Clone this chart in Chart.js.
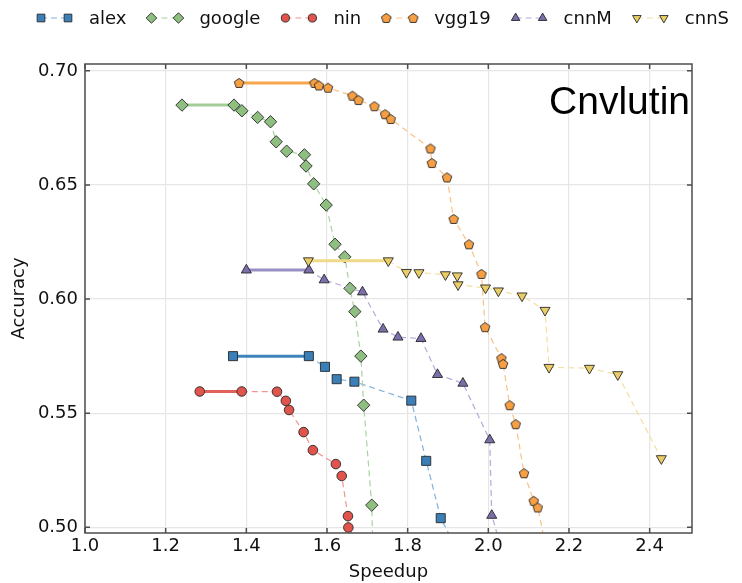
<!DOCTYPE html>
<html>
<head>
<meta charset="utf-8">
<script src="https://cdn.jsdelivr.net/npm/chart.js@4/dist/chart.umd.min.js"></script>
<style>
  html, body { margin: 0; padding: 0; background: #fff; }
  #wrap { width: 742px; height: 583px; }
</style>
</head>
<body>
<div id="wrap"><canvas id="chart" width="742" height="583"></canvas></div>
<script>
// speedup (x) / accuracy (y) per network
const alexSpeedup = [1.367, 1.555, 1.595, 1.624, 1.668, 1.809, 1.846, 1.882, 1.955]
const alexAccuracy = [0.575, 0.575, 0.5703, 0.5649, 0.5638, 0.5555, 0.5291, 0.504, 0.479]

const googleSpeedup = [1.2405, 1.3695, 1.389, 1.428, 1.460, 1.474, 1.500, 1.544, 1.548, 1.567, 1.598, 1.620, 1.644, 1.657, 1.669, 1.684, 1.691, 1.711, 1.715]
const googleAccuracy = [0.685, 0.685, 0.6825, 0.6796, 0.6777, 0.6689, 0.6648, 0.6632, 0.6583, 0.6505, 0.6412, 0.624, 0.6185, 0.6047, 0.5945, 0.575, 0.5535, 0.5097, 0.48]

const ninSpeedup = [1.2845, 1.3885, 1.476, 1.498, 1.506, 1.542, 1.565, 1.622, 1.6365, 1.652, 1.653, 1.70]
const ninAccuracy = [0.5595, 0.5595, 0.5594, 0.5554, 0.5514, 0.5417, 0.5338, 0.5277, 0.5225, 0.5049, 0.4999, 0.488]

const vgg19Speedup = [1.382, 1.569, 1.580, 1.6025, 1.663, 1.678, 1.7175, 1.744, 1.758, 1.8565, 1.860, 1.8976, 1.914, 1.952, 1.983, 1.992, 2.0325, 2.0365, 2.053, 2.068, 2.0886, 2.1126, 2.1225, 2.15]
const vgg19Accuracy = [0.6947, 0.6947, 0.6936, 0.6926, 0.6891, 0.6872, 0.6845, 0.681, 0.6789, 0.666, 0.6596, 0.6533, 0.6351, 0.624, 0.611, 0.5877, 0.5741, 0.5716, 0.5535, 0.5452, 0.5237, 0.5116, 0.5087, 0.485]

const cnnMSpeedup = [1.400, 1.555, 1.593, 1.688, 1.739, 1.776, 1.833, 1.874, 1.937, 2.0035, 2.0085, 2.04]
const cnnMAccuracy = [0.6127, 0.6127, 0.6084, 0.6031, 0.5868, 0.5833, 0.5827, 0.5669, 0.5631, 0.5383, 0.5052, 0.486]

const cnnSSpeedup = [1.554, 1.752, 1.797, 1.828, 1.8936, 1.923, 1.925, 1.993, 2.025, 2.0836, 2.1406, 2.1505, 2.2507, 2.321, 2.429]
const cnnSAccuracy = [0.6168, 0.6168, 0.6117, 0.6116, 0.6107, 0.6102, 0.6063, 0.6049, 0.6036, 0.6014, 0.5951, 0.5701, 0.5697, 0.5669, 0.5301]

const FONT = "'DejaVu Sans', sans-serif"
const EDGE = 'rgba(40,40,40,0.9)'

function pentagon(fill, r) {
  const c = document.createElement('canvas')
  c.width = c.height = 16
  const g = c.getContext('2d')
  g.beginPath()
  for (let i = 0; i < 5; i++) {
    const a = -Math.PI / 2 + i * 2 * Math.PI / 5
    const px = 8 + r * Math.cos(a), py = 8.4 + r * Math.sin(a)
    i ? g.lineTo(px, py) : g.moveTo(px, py)
  }
  g.closePath()
  g.fillStyle = fill
  g.fill()
  g.strokeStyle = EDGE
  g.lineWidth = 1
  g.stroke()
  return c
}

const series = [
  { label: 'alex', x: alexSpeedup, y: alexAccuracy, marker: 'rect', radius: 6.4, fill: '#3a7fb7', solid: '#3f85bd', dash: '#7fb2df' },
  { label: 'google', x: googleSpeedup, y: googleAccuracy, marker: 'rectRot', radius: 6.2, fill: '#8fbf80', solid: '#a3cd96', dash: '#a8d4a0' },
  { label: 'nin', x: ninSpeedup, y: ninAccuracy, marker: 'circle', radius: 4.8, fill: '#e0544c', solid: '#e2615a', dash: '#f2958e' },
  { label: 'vgg19', x: vgg19Speedup, y: vgg19Accuracy, marker: pentagon('#f7a043', 5), radius: 5.5, fill: '#f7a043', solid: '#f5a54c', dash: '#f9c286' },
  { label: 'cnnM', x: cnnMSpeedup, y: cnnMAccuracy, marker: 'triangle', radius: 5.8, fill: '#7c6dab', solid: '#9a8fc4', dash: '#b4aad8' },
  { label: 'cnnS', x: cnnSSpeedup, y: cnnSAccuracy, marker: 'triangle', rotation: 180, radius: 5.8, fill: '#eacd66', solid: '#f0d987', dash: '#f4dfa0' },
]

// first segment of every curve is solid and heavy, the rest thin dashes
const datasets = series.map((s, i) => ({
  label: s.label,
  data: s.x.map((v, j) => ({ x: v, y: s.y[j] })),
  order: series.length - i,
  showLine: true,
  tension: 0,
  clip: 0,
  pointStyle: s.marker,
  pointRotation: s.rotation || 0,
  pointRadius: s.radius,
  pointHoverRadius: s.radius,
  pointBackgroundColor: s.fill,
  pointBorderColor: EDGE,
  pointBorderWidth: 1,
  borderColor: s.dash,
  borderWidth: 1.2,
  borderDash: [6, 4],
  segment: {
    borderDash: ctx => ctx.p0DataIndex === 0 ? [] : [6, 4],
    borderWidth: ctx => ctx.p0DataIndex === 0 ? 3 : 1.2,
    borderColor: ctx => ctx.p0DataIndex === 0 ? s.solid : s.dash,
  },
}))

const overlay = {
  id: 'overlay',
  afterDraw(chart) {
    const { ctx, chartArea: a, scales } = chart
    ctx.save()

    // frame and inward ticks
    ctx.strokeStyle = '#4d4d4d'
    ctx.lineWidth = 1.5
    ctx.strokeRect(a.left, a.top, a.right - a.left, a.bottom - a.top)
    ctx.beginPath()
    scales.x.ticks.forEach(t => {
      const px = scales.x.getPixelForValue(t.value)
      ctx.moveTo(px, a.bottom); ctx.lineTo(px, a.bottom - 5)
      ctx.moveTo(px, a.top); ctx.lineTo(px, a.top + 5)
    })
    scales.y.ticks.forEach(t => {
      const py = scales.y.getPixelForValue(t.value)
      ctx.moveTo(a.left, py); ctx.lineTo(a.left + 5, py)
      ctx.moveTo(a.right, py); ctx.lineTo(a.right - 5, py)
    })
    ctx.stroke()

    ctx.fillStyle = '#000'
    ctx.font = '39px "Liberation Sans", Arial, sans-serif'
    ctx.textAlign = 'right'
    ctx.textBaseline = 'alphabetic'
    ctx.fillText('Cnvlutin', 690, 114)

    // legend row
    ctx.font = '18px ' + FONT
    ctx.textAlign = 'left'
    ctx.textBaseline = 'middle'
    let lx = 41
    const ly = 18
    series.forEach(s => {
      ctx.strokeStyle = s.dash
      ctx.lineWidth = 1.2
      ctx.setLineDash([6, 4])
      ctx.beginPath()
      ctx.moveTo(lx, ly)
      ctx.lineTo(lx + 27, ly)
      ctx.stroke()
      ctx.setLineDash([])
      ctx.fillStyle = s.fill
      ctx.strokeStyle = EDGE
      ctx.lineWidth = 1
      const opts = { pointStyle: s.marker, radius: s.radius * 0.85, rotation: s.rotation || 0, borderWidth: 1 }
      Chart.helpers.drawPoint(ctx, opts, lx, ly)
      Chart.helpers.drawPoint(ctx, opts, lx + 27, ly)
      ctx.fillStyle = '#111'
      ctx.fillText(s.label, lx + 48, ly + 1)
      lx += 48 + ctx.measureText(s.label).width + 25
    })
    ctx.restore()
  }
}

const tickFont = { family: FONT, size: 18 }

new Chart(document.getElementById('chart'), {
  type: 'scatter',
  data: { datasets },
  plugins: [overlay],
  options: {
    responsive: false,
    animation: false,
    events: [],
    layout: { padding: { top: 64, right: 50, left: 0, bottom: 0 } },
    plugins: { legend: { display: false }, tooltip: { enabled: false } },
    scales: {
      x: {
        type: 'linear',
        min: 1.0,
        max: 2.505,
        afterFit: s => { s.height = 50 },
        border: { display: false },
        grid: { color: '#e6e6e6', lineWidth: 1.2, drawTicks: false },
        ticks: {
          stepSize: 0.2, includeBounds: false, autoSkip: false, maxRotation: 0,
          padding: 3, color: '#111', font: tickFont,
          callback: v => v.toFixed(1),
        },
        title: { display: true, text: 'Speedup', color: '#111', font: tickFont, padding: { top: 0, bottom: 0 } },
      },
      y: {
        type: 'linear',
        min: 0.4975,
        max: 0.703,
        afterFit: s => { s.width = 85 },
        border: { display: false },
        grid: { color: '#e6e6e6', lineWidth: 1.2, drawTicks: false },
        ticks: {
          stepSize: 0.05, includeBounds: false, autoSkip: false,
          padding: 7, color: '#111', font: tickFont,
          callback: v => v.toFixed(2),
        },
        title: { display: true, text: 'Accuracy', color: '#111', font: tickFont, padding: { top: 9, bottom: 0 } },
      },
    },
  },
})
</script>
</body>
</html>
